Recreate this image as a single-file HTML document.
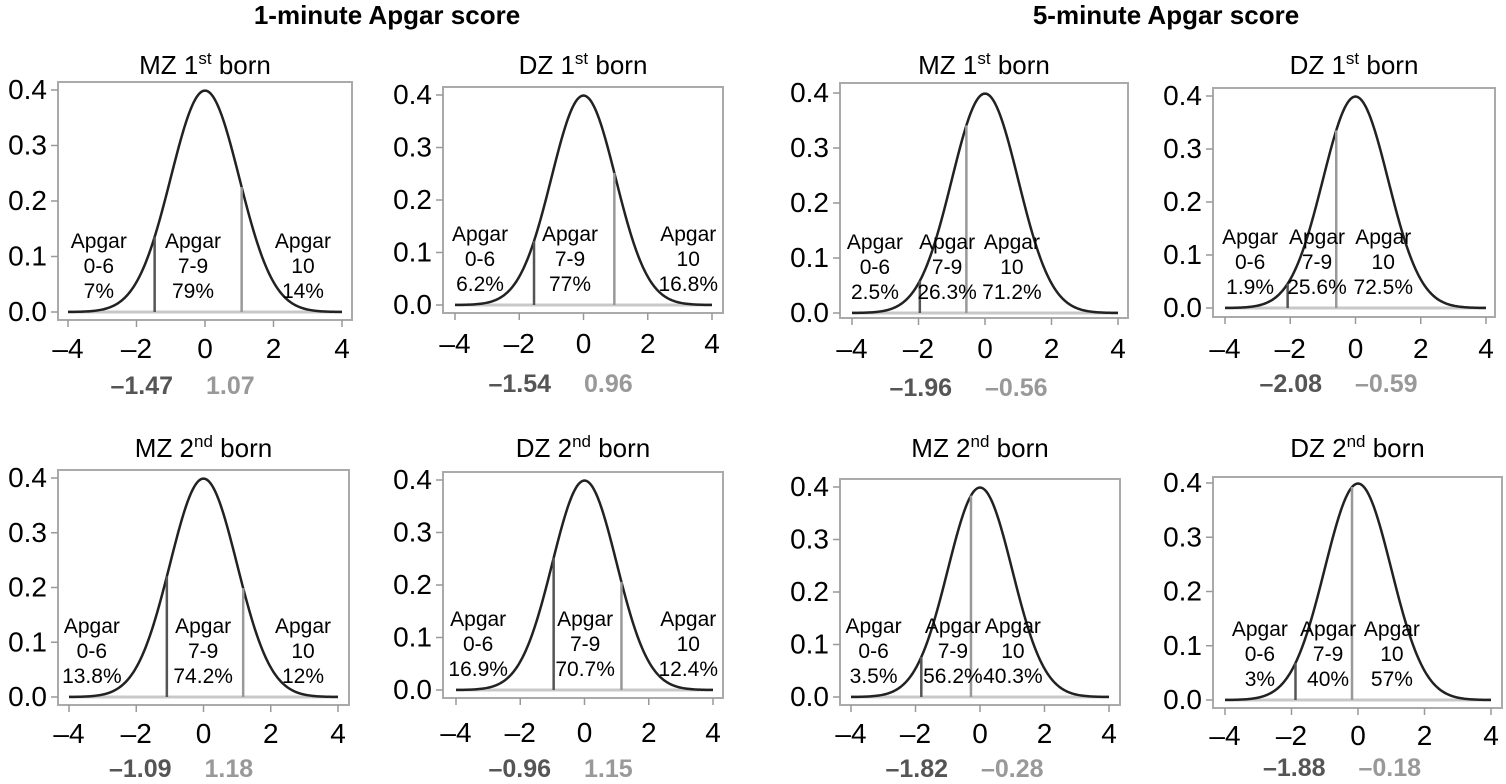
<!DOCTYPE html>
<html><head><meta charset="utf-8"><style>
html,body{margin:0;padding:0;background:#fff;}
svg{display:block;font-family:"Liberation Sans",Arial,sans-serif;}
</style></head><body>
<svg id="chart" width="1506" height="784" viewBox="0 0 1506 784" xmlns="http://www.w3.org/2000/svg">
<text x="387" y="24" font-size="26" font-weight="bold" text-anchor="middle">1-minute Apgar score</text>
<text x="1166" y="24" font-size="26" font-weight="bold" text-anchor="middle">5-minute Apgar score</text>
</svg>
<script>
// data
const panelTitles = ["MZ 1", "DZ 1", "MZ 1", "DZ 1", "MZ 2", "DZ 2", "MZ 2", "DZ 2"];
const titleSups = ["st","st","st","st","nd","nd","nd","nd"];
const threshLow = [-1.47, -1.54, -1.96, -2.08, -1.09, -0.96, -1.82, -1.88];
const threshHigh = [1.07, 0.96, -0.56, -0.59, 1.18, 1.15, -0.28, -0.18];
const threshLowText = ["\u20131.47","\u20131.54","\u20131.96","\u20132.08","\u20131.09","\u20130.96","\u20131.82","\u20131.88"];
const threshHighText = ["1.07","0.96","\u20130.56","\u20130.59","1.18","1.15","\u20130.28","\u20130.18"];
const pctLow = ["7%","6.2%","2.5%","1.9%","13.8%","16.9%","3.5%","3%"];
const pctMid = ["79%","77%","26.3%","25.6%","74.2%","70.7%","56.2%","40%"];
const pctHigh = ["14%","16.8%","71.2%","72.5%","12%","12.4%","40.3%","57%"];
const labelLowX = [-3.1, -3.22, -3.31, -3.23, -3.32, -3.31, -3.3, -2.95];
const labelMidX = [-0.35, -0.42, -1.14, -1.18, -0.01, 0.02, -0.84, -0.9];
const labelHighX = [2.86, 3.26, 0.81, 0.85, 2.96, 3.23, 1.02, 1.02];
const xTicks = [-4, -2, 0, 2, 4];
const xTickLabels = ["\u20134","\u20132","0","2","4"];
const yTicks = [0, 0.1, 0.2, 0.3, 0.4];
const yTickLabels = ["0.0","0.1","0.2","0.3","0.4"];

// layout (pixel geometry per panel)
const L = [
 {xa:68,xb:342,y0:312,y4:90,bl:58,br:352,bt:82,bb:320,ty:65,tk:348,th:385},
 {xa:455,xb:712,y0:305,y4:95,bl:443,br:723,bt:87,bb:313,ty:65,tk:343,th:383},
 {xa:852,xb:1118,y0:313,y4:93,bl:840,br:1128,bt:83,bb:318,ty:65,tk:348,th:387},
 {xa:1225,xb:1486,y0:308,y4:96,bl:1213,br:1495,bt:88,bb:317,ty:65,tk:348,th:383},
 {xa:69,xb:338,y0:697,y4:478,bl:58,br:349,bt:470,bb:705,ty:448,tk:733,th:768},
 {xa:456,xb:713,y0:690,y4:480,bl:443,br:723,bt:472,bb:698,ty:448,tk:732,th:768},
 {xa:851,xb:1109,y0:697,y4:487,bl:840,br:1120,bt:479,bb:705,ty:448,tk:733,th:768},
 {xa:1225,xb:1491,y0:700,y4:483,bl:1213,br:1502,bt:477,bb:708,ty:448,tk:735,th:767}
];
const NS="http://www.w3.org/2000/svg";
const svg=document.getElementById('chart');
function mk(tag,attrs,parent){const e=document.createElementNS(NS,tag);for(const k in attrs)e.setAttribute(k,attrs[k]);(parent||svg).appendChild(e);return e;}
function dnorm(x){return Math.exp(-x*x/2)/Math.sqrt(2*Math.PI);}
const names=["mz-1st-1min","dz-1st-1min","mz-1st-5min","dz-1st-5min","mz-2nd-1min","dz-2nd-1min","mz-2nd-5min","dz-2nd-5min"];
for(let i=0;i<8;i++){
  const g=L[i];
  const sx=v=>g.xa+(v+4)/8*(g.xb-g.xa);
  const sy=v=>g.y0-v/0.4*(g.y0-g.y4);
  const grp=mk('g',{});
  
  
  const cx=(g.bl+g.br)/2;
  const t=mk('text',{x:cx,y:g.ty+9,'font-size':26,'text-anchor':'middle'},grp);
  
  
  t.appendChild(document.createTextNode(panelTitles[i]));
  const sp=mk('tspan',{'font-size':17,dy:-10},t);sp.textContent=titleSups[i];
  const sp2=mk('tspan',{dy:10},t);sp2.textContent=' born';
  const box=mk('rect',{x:g.bl,y:g.bt,width:g.br-g.bl,height:g.bb-g.bt,fill:'none',stroke:'#aaa','stroke-width':2},grp);
  
  
  yTicks.forEach((v,k)=>{
    mk('line',{x1:g.bl-7,x2:g.bl,y1:sy(v),y2:sy(v),stroke:'#999','stroke-width':1.5},grp);
    const yl=mk('text',{x:g.bl-11,y:sy(v)+9,'font-size':28,'text-anchor':'end'},grp);
    
    
    yl.textContent=yTickLabels[k];
  });
  xTicks.forEach((v,k)=>{
    mk('line',{x1:sx(v),x2:sx(v),y1:g.bb,y2:g.bb+7,stroke:'#999','stroke-width':1.5},grp);
    const xl=mk('text',{x:sx(v),y:g.tk+10,'font-size':28,'text-anchor':'middle'},grp);
    
    
    xl.textContent=xTickLabels[k];
  });
  const base=mk('line',{x1:sx(-4),x2:sx(4),y1:sy(0),y2:sy(0),stroke:'#c8c8c8','stroke-width':3},grp);
  
  
  let d='';
  for(let s=0;s<=200;s++){const x=-4+s*0.04;d+=(s?'L':'M')+sx(x).toFixed(2)+','+sy(dnorm(x)).toFixed(2);}
  const c=mk('path',{d:d,fill:'none',stroke:'#222','stroke-width':2.5},grp);
  
  
  const l1=mk('line',{x1:sx(threshLow[i]),x2:sx(threshLow[i]),y1:sy(0),y2:sy(dnorm(threshLow[i])),stroke:'#555','stroke-width':2.5},grp);
  
  
  const l2=mk('line',{x1:sx(threshHigh[i]),x2:sx(threshHigh[i]),y1:sy(0),y2:sy(dnorm(threshHigh[i])),stroke:'#999','stroke-width':2.5},grp);
  
  
  const groups=[[labelLowX[i],'0-6',pctLow[i],'low'],[labelMidX[i],'7-9',pctMid[i],'mid'],[labelHighX[i],'10',pctHigh[i],'high']];
  groups.forEach(a=>{
    const lines=['Apgar',a[1],a[2]];
    lines.forEach((s,k)=>{
      const tx=mk('text',{x:sx(a[0]),y:g.y0-64+k*25,'font-size':21,'text-anchor':'middle'},grp);
      
      
      tx.textContent=s;
    });
  });
  const tl=mk('text',{x:cx-32,y:g.th+9,'font-size':25,'font-weight':'bold','text-anchor':'end',fill:'#555'},grp);
  
  
  tl.textContent=threshLowText[i];
  const tr=mk('text',{x:cx+1,y:g.th+9,'font-size':25,'font-weight':'bold','text-anchor':'start',fill:'#999'},grp);
  
  
  tr.textContent=threshHighText[i];
}
</script>
</body></html>
